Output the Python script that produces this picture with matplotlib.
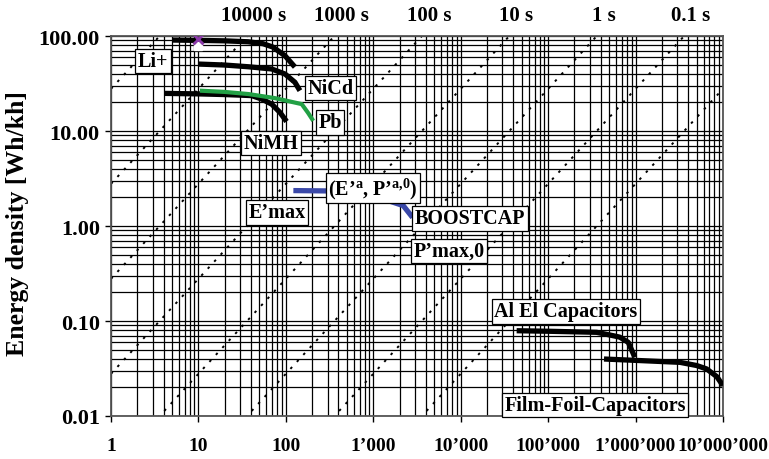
import numpy as np
import matplotlib
matplotlib.use("Agg")
import matplotlib.pyplot as plt
import matplotlib.ticker as ticker
import matplotlib.transforms as mtransforms

plt.rcParams['font.family'] = ['Liberation Serif', 'DejaVu Serif']
plt.rcParams['font.weight'] = 'bold'
plt.rcParams['mathtext.fontset'] = 'custom'
plt.rcParams['mathtext.rm'] = 'Liberation Serif:bold'
plt.rcParams['mathtext.it'] = 'Liberation Serif:italic:bold'
plt.rcParams['mathtext.bf'] = 'Liberation Serif:bold'

# Werte (Leistungsdichte W/kg, Energiedichte Wh/kg)
li_P = [5, 10, 20, 37, 55, 71, 98, 127]
li_E = [90.7, 90, 89, 87, 83, 76.6, 61.9, 47.2]

nicd_P = [10, 20, 37, 69, 98, 127, 145]
nicd_E = [50.7, 49.5, 47.5, 45, 39.8, 32.6, 26.6]

nimh_P = [4.07, 10, 20, 40.6, 53, 68.9, 85.7, 102]
nimh_E = [24.9, 24.6, 24.2, 23.6, 21.7, 19.2, 15.7, 12.6]

pb_P = [10.4, 20, 37.3, 75, 152, 180, 206]
pb_E = [26.6, 25.8, 24.5, 22.2, 19.2, 15.5, 12.8]

boostcap_P = [122, 306, 700, 1200, 1622, 2203, 2818]
boostcap_E = [2.36, 2.34, 2.25, 2.05, 1.80, 1.64, 1.23]

alel_P = [43.7e3, 100e3, 359e3, 556e3, 661e3, 826e3, 983e3]
alel_E = [0.079, 0.078, 0.076, 0.070, 0.0676, 0.0596, 0.0415]

film_P = [436e3, 1e6, 3.23e6, 5e6, 6.5e6, 8.5e6, 1e7]
film_E = [0.0398, 0.0385, 0.0367, 0.034, 0.0313, 0.026, 0.0209]

li_marker = (10, 93)

# Zeitkonstanten der gestrichelten Linien [s]
time_constants = [0.01, 0.1, 1, 10, 100, 1000, 1e4, 1e5, 1e6]
top_labels = ["10000 s", "1000 s", "100 s", "10 s", "1 s", "0.1 s"]
top_times = [1e4, 1e3, 100, 10, 1, 0.1]

x_ticks = [1, 10, 100, 1e3, 1e4, 1e5, 1e6, 1e7]
x_ticklabels = ["1", "10", "100", "1’000", "10’000", "100’000",
                "1’000’000", "10’000’000"]
y_ticks = [0.01, 0.1, 1, 10, 100]
y_ticklabels = ["0.01", "0.10", "1.00", "10.00", "100.00"]

fig = plt.figure(figsize=(7.69, 4.60), dpi=100)
ax = fig.add_axes([0.1443, 0.0935, 0.7958, 0.826])
ax.set_xscale('log')
ax.set_yscale('log')
ax.set_xlim(1, 1e7)
ax.set_ylim(0.01, 100)

# Gitter
ax.xaxis.set_minor_locator(ticker.LogLocator(base=10, subs=np.arange(2, 10), numticks=100))
ax.yaxis.set_minor_locator(ticker.LogLocator(base=10, subs=np.arange(2, 10), numticks=100))
ax.set_xticks(x_ticks)
ax.set_xticklabels(x_ticklabels)
ax.set_yticks(y_ticks)
ax.set_yticklabels(y_ticklabels)
ax.xaxis.set_minor_formatter(ticker.NullFormatter())
ax.yaxis.set_minor_formatter(ticker.NullFormatter())
ax.grid(True, which='both', color='black', lw=0.9)
ax.set_axisbelow(True)
ax.tick_params(which='major', direction='out', length=4, width=1)
ax.tick_params(axis='x', labelsize=14, pad=11)
ax.tick_params(axis='y', labelsize=16, pad=4)
ax.tick_params(which='minor', length=0)
for lab in ax.get_xticklabels() + ax.get_yticklabels():
    lab.set_fontweight('bold')
for s in ax.spines.values():
    s.set_color('#555555')
    s.set_linewidth(1.3)

# Linien konstanter Zeit  E = P * t / 3600
P_line = np.array([1, 1e7])
for t in time_constants:
    ax.plot(P_line, P_line * t / 3600, color='black', lw=1.4,
            linestyle=(0, (1.3, 3.6)), zorder=2)

trans = mtransforms.blended_transform_factory(ax.transData, ax.transAxes)
for lab, t in zip(top_labels, top_times):
    ax.text(3600 * 100 / t * 1.2, 1.055, lab, transform=trans, ha='center',
            va='center', fontsize=15, fontweight='bold', clip_on=False)

# Kurven
ax.plot(li_P, li_E, color='black', lw=3.8, solid_capstyle='butt', zorder=3)
ax.plot(nicd_P, nicd_E, color='black', lw=3.8, solid_capstyle='butt', zorder=3)
ax.plot(nimh_P, nimh_E, color='black', lw=3.8, solid_capstyle='butt', zorder=3)
ax.plot(pb_P, pb_E, color='#22a045', lw=3.0, solid_capstyle='butt', zorder=4)
ax.plot(boostcap_P, boostcap_E, color='#3a48a8', lw=3.8, solid_capstyle='butt', zorder=3)
ax.plot(alel_P, alel_E, color='black', lw=3.8, solid_capstyle='butt', zorder=3)
ax.plot(film_P, film_E, color='black', lw=3.8, solid_capstyle='butt', zorder=3)
ax.plot(li_marker[0], li_marker[1] * 0.85, marker='s', ms=6, color='white',
        zorder=5, linestyle='none')
ax.plot(*li_marker, marker='x', ms=7, mew=2, color='#8a3aa8', zorder=6,
        linestyle='none')

box = dict(boxstyle='square,pad=0.12', fc='white', ec='black', lw=0.9)
labels = [
    ("Li+", 3.02, 54.6),
    ("NiCd", 328, 28.4),
    ("Pb", 320, 12.4),
    ("NiMH", 67.6, 7.48),
    ("E’max", 79, 1.40),
    ("(E’$^{\\mathrm{a}}$, P’$^{\\mathrm{a{,}0}}$)", 997, 2.51),
    ("BOOSTCAP", 12770, 1.21),
    ("P’max,0", 7340, 0.546),
    ("Al El Capacitors", 160e3, 0.126),
    ("Film-Foil-Capacitors", 344e3, 0.01306),
]
for txt, x, y in labels:
    ax.text(x, y, txt, ha='center', va='center', fontsize=14.5,
            fontweight='bold', bbox=box, zorder=7)

fig.text(0.023, 0.515, "Energy density [Wh/kh]", rotation=90, ha='center',
         va='center', fontsize=18.5, fontweight='bold')

fig.savefig("out.png", dpi=100)
